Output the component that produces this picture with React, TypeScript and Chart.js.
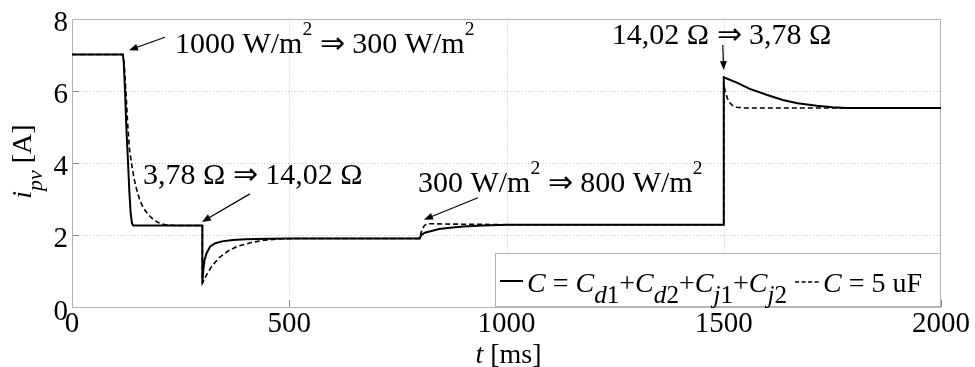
import React, { useEffect, useRef } from 'react';
import { Chart, registerables } from 'chart.js';

Chart.register(...registerables);

const SERIF = "'Liberation Serif', 'Times New Roman', serif";

// Solid curve: C = Cd1 + Cd2 + Cj1 + Cj2
const solidT = [0, 117, 119, 122, 125, 129, 132, 135, 138, 141, 300, 300, 302, 305, 310, 318, 330, 345, 370, 400, 450, 500, 800, 804, 812, 825, 845, 870, 900, 946, 1000, 1500, 1500, 1530, 1560, 1600, 1636, 1670, 1714, 1750, 1783, 2000];
const solidI = [7.0, 7.0, 6.8, 6.0, 5.0, 4.0, 3.2, 2.6, 2.32, 2.26, 2.26, 0.66, 1.0, 1.3, 1.5, 1.68, 1.77, 1.82, 1.86, 1.88, 1.89, 1.9, 1.9, 2.0, 2.06, 2.1, 2.16, 2.2, 2.23, 2.26, 2.28, 2.28, 6.37, 6.22, 6.05, 5.88, 5.74, 5.65, 5.58, 5.54, 5.52, 5.52];

// Dashed curve: C = 5 uF
const dashedT = [0, 117, 120, 124, 128, 132, 138, 143, 149, 155, 161, 168, 175, 185, 198, 215, 240, 300, 300, 310, 320, 330, 340, 360, 380, 410, 440, 480, 520, 800, 803, 807, 812, 820, 860, 950, 1000, 1500, 1500, 1503, 1508, 1514, 1521, 1530, 1545, 2000];
const dashedI = [7.0, 7.0, 6.75, 6.0, 5.1, 4.4, 3.9, 3.55, 3.25, 3.0, 2.83, 2.68, 2.57, 2.45, 2.34, 2.28, 2.26, 2.26, 0.66, 0.9, 1.1, 1.25, 1.38, 1.56, 1.68, 1.78, 1.85, 1.89, 1.9, 1.9, 2.05, 2.18, 2.27, 2.31, 2.3, 2.29, 2.28, 2.28, 6.2, 6.0, 5.8, 5.66, 5.58, 5.54, 5.52, 5.52];

const xTicks = [0, 500, 1000, 1500, 2000];
const yTicks = [0, 2, 4, 6, 8];

type Run = { t: string; it?: boolean; sub?: boolean; sup?: boolean };

const annotations: { tip: [number, number]; tail: [number, number]; text: [number, number]; runs: Run[] }[] = [
  { tip: [131, 7.12], tail: [36, -13], text: [46, 3], runs: [{ t: '1000 W/m' }, { t: '2', sup: true }, { t: ' \u21D2 300 W/m' }, { t: '2', sup: true }] },
  { tip: [299, 2.36], tail: [48, -28], text: [-59, -38], runs: [{ t: '3,78 \u03A9 \u21D2 14,02 \u03A9' }] },
  { tip: [810, 2.42], tail: [54, -22], text: [-6, -28], runs: [{ t: '300 W/m' }, { t: '2', sup: true }, { t: ' \u21D2 800 W/m' }, { t: '2', sup: true }] },
  { tip: [1500, 6.57], tail: [-1, -25], text: [-112, -26], runs: [{ t: '14,02 \u03A9 \u21D2 3,78 \u03A9' }] },
];

const legendSolid: Run[] = [
  { t: 'C', it: true }, { t: ' = ' }, { t: 'C', it: true }, { t: 'd', it: true, sub: true }, { t: '1', sub: true },
  { t: '+' }, { t: 'C', it: true }, { t: 'd', it: true, sub: true }, { t: '2', sub: true },
  { t: '+' }, { t: 'C', it: true }, { t: 'j', it: true, sub: true }, { t: '1', sub: true },
  { t: '+' }, { t: 'C', it: true }, { t: 'j', it: true, sub: true }, { t: '2', sub: true },
];
const legendDashed: Run[] = [{ t: 'C', it: true }, { t: ' = 5 uF' }];

function drawRuns(ctx: CanvasRenderingContext2D, x: number, y: number, runs: Run[], size: number, subScale = 0.78, subDy = 0.4) {
  ctx.textBaseline = 'alphabetic';
  ctx.textAlign = 'left';
  for (const r of runs) {
    const s = r.sub ? size * subScale : r.sup ? size * 0.65 : size;
    ctx.font = `${r.it ? 'italic ' : ''}${s}px ${SERIF}`;
    const dy = r.sub ? size * subDy : r.sup ? -size * 0.6 : 0;
    ctx.fillText(r.t, x, y + dy);
    x += ctx.measureText(r.t).width;
  }
  return x;
}

function arrow(ctx: CanvasRenderingContext2D, x1: number, y1: number, x2: number, y2: number) {
  const ang = Math.atan2(y2 - y1, x2 - x1);
  const len = 9, hw = 3.5;
  ctx.beginPath();
  ctx.moveTo(x1, y1);
  ctx.lineTo(x2 - Math.cos(ang) * len * 0.8, y2 - Math.sin(ang) * len * 0.8);
  ctx.stroke();
  ctx.beginPath();
  ctx.moveTo(x2, y2);
  ctx.lineTo(x2 - Math.cos(ang) * len - Math.sin(ang) * hw, y2 - Math.sin(ang) * len + Math.cos(ang) * hw);
  ctx.lineTo(x2 - Math.cos(ang) * len + Math.sin(ang) * hw, y2 - Math.sin(ang) * len - Math.cos(ang) * hw);
  ctx.closePath();
  ctx.fill();
}

const overlay = {
  id: 'overlay',
  beforeDatasetsDraw(chart: any) {
    const { ctx, chartArea: a, scales } = chart;
    ctx.save();
    ctx.lineWidth = 1;
    ctx.strokeStyle = '#c4c4c4';
    ctx.setLineDash([1, 2]);
    for (const v of xTicks) {
      if (v === xTicks[0] || v === xTicks[xTicks.length - 1]) continue;
      const x = Math.round(scales.x.getPixelForValue(v)) + 0.5;
      ctx.beginPath(); ctx.moveTo(x, a.top); ctx.lineTo(x, a.bottom); ctx.stroke();
    }
    for (const v of yTicks) {
      if (v === yTicks[0] || v === yTicks[yTicks.length - 1]) continue;
      const y = Math.round(scales.y.getPixelForValue(v)) + 0.5;
      ctx.beginPath(); ctx.moveTo(a.left, y); ctx.lineTo(a.right, y); ctx.stroke();
    }
    ctx.setLineDash([]);
    ctx.strokeStyle = '#8a8a8a';
    for (const v of xTicks) {
      const x = Math.round(scales.x.getPixelForValue(v)) + 0.5;
      ctx.beginPath(); ctx.moveTo(x, a.bottom); ctx.lineTo(x, a.bottom - 7); ctx.stroke();
    }
    for (const v of yTicks) {
      const y = Math.round(scales.y.getPixelForValue(v)) + 0.5;
      ctx.beginPath(); ctx.moveTo(a.left, y); ctx.lineTo(a.left + 7, y); ctx.stroke();
    }
    ctx.strokeStyle = '#b4b4b4';
    ctx.strokeRect(Math.round(a.left) + 0.5, Math.round(a.top) + 0.5, Math.round(a.right - a.left) - 1, Math.round(a.bottom - a.top) - 1);
    ctx.restore();
  },
  afterDatasetsDraw(chart: any) {
    const { ctx, chartArea: a, scales } = chart;
    ctx.save();
    ctx.fillStyle = '#000';
    ctx.strokeStyle = '#000';
    ctx.lineWidth = 1.2;
    for (const an of annotations) {
      const px = scales.x.getPixelForValue(an.tip[0]);
      const py = scales.y.getPixelForValue(an.tip[1]);
      arrow(ctx, px + an.tail[0], py + an.tail[1], px, py);
      drawRuns(ctx, px + an.text[0], py + an.text[1], an.runs, 30);
    }

    // legend box
    const lw = 446, lh = 54;
    const lx = a.right - lw, ly = a.bottom - lh;
    ctx.fillStyle = '#fff';
    ctx.fillRect(lx, ly, lw, lh);
    ctx.strokeStyle = '#b4b4b4';
    ctx.lineWidth = 1;
    ctx.strokeRect(Math.round(lx) + 0.5, Math.round(ly) + 0.5, lw - 1, lh - 1);
    ctx.fillStyle = '#000';
    ctx.strokeStyle = '#000';
    const base = ly + 39;
    ctx.lineWidth = 2;
    ctx.beginPath(); ctx.moveTo(lx + 5, base - 11); ctx.lineTo(lx + 28, base - 11); ctx.stroke();
    let x = drawRuns(ctx, lx + 32, base, legendSolid, 28, 0.9, 0.4);
    ctx.lineWidth = 1.5;
    ctx.setLineDash([4, 2.5]);
    ctx.beginPath(); ctx.moveTo(x + 8, base - 10); ctx.lineTo(x + 34, base - 10); ctx.stroke();
    ctx.setLineDash([]);
    drawRuns(ctx, x + 36, base, legendDashed, 28);

    // axis titles
    ctx.fillStyle = '#000';
    const xc = (a.left + a.right) / 2;
    ctx.font = `italic 28px ${SERIF}`;
    const wT = ctx.measureText('t').width;
    ctx.font = `28px ${SERIF}`;
    const wMs = ctx.measureText(' [ms]').width;
    drawRuns(ctx, xc - (wT + wMs) / 2 + 2, 363, [{ t: 't', it: true }, { t: ' [ms]' }], 28);

    ctx.save();
    ctx.translate(31, (a.top + a.bottom) / 2 + 36);
    ctx.rotate(-Math.PI / 2);
    drawRuns(ctx, 0, 0, [{ t: 'i', it: true }, { t: 'pv', it: true, sub: true }, { t: ' [A]' }], 28, 0.78, 0.4);
    ctx.restore();
    ctx.restore();
  },
};

export default function App() {
  const ref = useRef<HTMLCanvasElement | null>(null);
  useEffect(() => {
    if (!ref.current) return;
    const tickFont = { family: SERIF, size: 29, lineHeight: 1 };
    const chart = new Chart(ref.current, {
      type: 'line',
      data: {
        datasets: [
          {
            label: 'C = Cd1+Cd2+Cj1+Cj2',
            data: solidT.map((t, k) => ({ x: t, y: solidI[k] })),
            borderColor: '#000',
            borderWidth: 2,
            pointRadius: 0,
            tension: 0,
            fill: false,
          },
          {
            label: 'C = 5 uF',
            data: dashedT.map((t, k) => ({ x: t, y: dashedI[k] })),
            borderColor: '#000',
            borderWidth: 1.6,
            borderDash: [5, 3],
            pointRadius: 0,
            tension: 0,
            fill: false,
          },
        ],
      },
      options: {
        animation: false,
        responsive: false,
        layout: { padding: { top: 16, right: 34, left: 0, bottom: 0 } },
        plugins: { legend: { display: false }, tooltip: { enabled: false } },
        scales: {
          x: {
            type: 'linear',
            min: 0,
            max: 2000,
            afterBuildTicks: (s: any) => { s.ticks = xTicks.map((v) => ({ value: v })); },
            afterFit: (s: any) => { s.height = 60; },
            grid: { display: false, drawTicks: false },
            border: { display: false },
            ticks: { font: tickFont, color: '#000', padding: 3, maxRotation: 0, autoSkip: false, callback: (v: any) => String(v) },
          },
          y: {
            type: 'linear',
            min: 0,
            max: 8,
            afterBuildTicks: (s: any) => { s.ticks = yTicks.map((v) => ({ value: v })); },
            afterFit: (s: any) => { s.width = 72; },
            grid: { display: false, drawTicks: false },
            border: { display: false },
            ticks: { font: tickFont, color: '#000', padding: 4, labelOffset: 5, autoSkip: false, callback: (v: any) => String(v) },
          },
        },
      },
      plugins: [overlay],
    } as any);
    return () => chart.destroy();
  }, []);
  return (
    <div style={{ position: 'absolute', left: 0, top: 0, width: 975, height: 367, background: '#fff' }}>
      <canvas ref={ref} width={975} height={367} style={{ display: 'block' }} />
    </div>
  );
}
